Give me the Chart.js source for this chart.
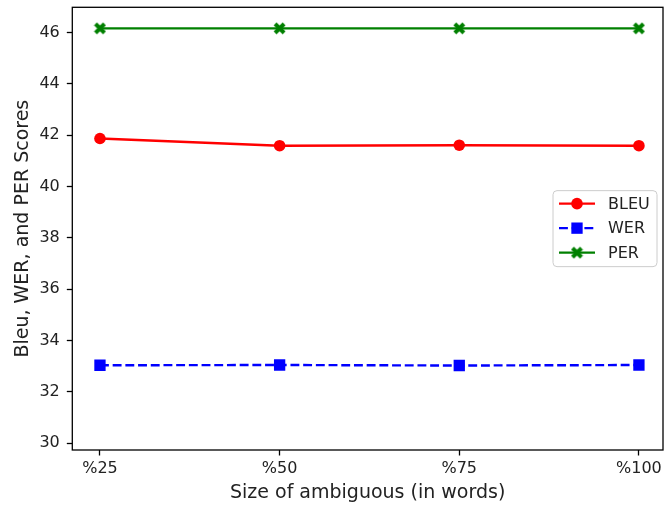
<!DOCTYPE html>
<html>
<head>
<meta charset="utf-8">
<script src="https://cdn.jsdelivr.net/npm/chart.js@4.4.0/dist/chart.umd.min.js"></script>
<style>
  html, body { margin: 0; padding: 0; background: #fff; }
  #wrap { width: 665px; height: 508px; position: relative; }
</style>
</head>
<body>
<div id="wrap"><canvas id="chart"></canvas></div>
<script>
// ── Datos ────────────────────────────────────────────────────────────────────
const SIZES   = ['%25', '%50', '%75', '%100'];
const BLEU    = [41.87, 41.59, 41.61, 41.59];
const WER     = [33.04, 33.05, 33.03, 33.05];
const PER     = [46.16, 46.16, 46.16, 46.16];
const Y_TICKS = [30, 32, 34, 36, 38, 40, 42, 44, 46];

const FONT = "'DejaVu Sans', 'Liberation Sans', sans-serif";
const INK  = '#222222';

// marcador 'X' relleno (estilo matplotlib)
function makeXMarker(color) {
  const c = document.createElement('canvas');
  c.width = 13; c.height = 13;
  const g = c.getContext('2d');
  g.strokeStyle = color;
  g.lineWidth = 4;
  g.lineCap = 'butt';
  g.beginPath();
  g.moveTo(2, 2);  g.lineTo(11, 11);
  g.moveTo(11, 2); g.lineTo(2, 11);
  g.stroke();
  return c;
}
const X_MARK = makeXMarker('#008000');

const toXY = arr => arr.map((v, i) => ({ x: i, y: v }));

// ── Marco de ejes + leyenda estilo matplotlib ───────────────────────────────
function drawMarker(ctx, ds, x, y) {
  ctx.save();
  ctx.fillStyle = ds.pointBackgroundColor;
  if (ds.pointStyle === 'circle') {
    ctx.beginPath();
    ctx.arc(x, y, ds.pointRadius, 0, Math.PI * 2);
    ctx.fill();
  } else if (ds.pointStyle === 'rect') {
    const s = ds.pointRadius * Math.SQRT1_2;
    ctx.fillRect(x - s, y - s, 2 * s, 2 * s);
  } else {
    const img = ds.pointStyle;
    ctx.drawImage(img, x - img.width / 2, y - img.height / 2);
  }
  ctx.restore();
}

const framePlugin = {
  id: 'frame',
  afterDraw(chart) {
    const { ctx, chartArea: a } = chart;
    ctx.save();
    ctx.strokeStyle = '#000';
    ctx.lineWidth = 1.3;
    ctx.strokeRect(a.left, a.top, a.right - a.left, a.bottom - a.top);

    // leyenda
    const w = 104, h = 76;
    const x0 = a.right - 6 - w;
    const y0 = (a.top + a.bottom) / 2 - h / 2;
    ctx.beginPath();
    ctx.roundRect(x0, y0, w, h, 4);
    ctx.fillStyle = 'rgba(255,255,255,0.8)';
    ctx.fill();
    ctx.strokeStyle = '#cccccc';
    ctx.lineWidth = 1;
    ctx.stroke();

    ctx.font = `16px ${FONT}`;
    ctx.textBaseline = 'middle';
    ctx.textAlign = 'left';
    chart.data.datasets.forEach((ds, i) => {
      const y = y0 + 13 + i * 24.5;
      ctx.save();
      ctx.strokeStyle = ds.borderColor;
      ctx.lineWidth = ds.borderWidth;
      ctx.setLineDash(ds.borderDash || []);
      ctx.beginPath();
      ctx.moveTo(x0 + 6, y);
      ctx.lineTo(x0 + 42, y);
      ctx.stroke();
      ctx.restore();
      drawMarker(ctx, ds, x0 + 24, y);
      ctx.fillStyle = INK;
      ctx.fillText(ds.label, x0 + 55, y + 1);
    });
    ctx.restore();
  }
};

// ── Gráfica ──────────────────────────────────────────────────────────────────
const lineBase = {
  borderWidth: 2.4,
  pointBorderWidth: 0,
  fill: false,
  tension: 0,
};

new Chart(document.getElementById('chart'), {
  type: 'line',
  data: {
    datasets: [
      { ...lineBase, label: 'BLEU', data: toXY(BLEU),
        borderColor: '#ff0000', backgroundColor: '#ff0000', pointBackgroundColor: '#ff0000',
        pointStyle: 'circle', pointRadius: 5.8 },
      { ...lineBase, label: 'WER', data: toXY(WER),
        borderColor: '#0000ff', backgroundColor: '#0000ff', pointBackgroundColor: '#0000ff',
        borderDash: [8.9, 3.8], pointStyle: 'rect', pointRadius: 8 },
      { ...lineBase, label: 'PER', data: toXY(PER),
        borderColor: '#008000', backgroundColor: '#008000', pointBackgroundColor: '#008000',
        pointStyle: X_MARK, pointRadius: 6 },
    ]
  },
  options: {
    responsive:          true,
    maintainAspectRatio: false,
    animation:           false,
    events:              [],
    layout: { autoPadding: false, padding: { top: 7.3, right: 2, left: 0, bottom: 0 } },
    plugins: {
      legend:  { display: false },
      tooltip: { enabled: false },
    },
    scales: {
      x: {
        type: 'linear',
        min: -0.154, max: 3.134,
        afterBuildTicks: s => { s.ticks = SIZES.map((_, i) => ({ value: i })); },
        afterFit: s => { s.height = 58; s.paddingLeft = 0; s.paddingRight = 0; },
        border: { display: false },
        grid:  { drawOnChartArea: false, drawTicks: true, tickLength: 5.5, tickWidth: 1.3, color: '#000' },
        ticks: { callback: v => SIZES[v], font: { family: FONT, size: 16 }, color: INK, padding: 4, maxRotation: 0 },
        title: { display: true, text: 'Size of ambiguous (in words)', font: { family: FONT, size: 19 }, color: INK, padding: { top: 0, bottom: 4 } },
      },
      y: {
        min: 29.74, max: 46.98,
        afterBuildTicks: s => { s.ticks = Y_TICKS.map(v => ({ value: v })); },
        afterFit: s => { s.width = 72.3; s.paddingTop = 0; s.paddingBottom = 0; },
        border: { display: false },
        grid:  { drawOnChartArea: false, drawTicks: true, tickLength: 5.5, tickWidth: 1.3, color: '#000' },
        ticks: { font: { family: FONT, size: 16 }, color: INK, padding: 7 },
        title: { display: true, text: 'Bleu, WER, and PER Scores', font: { family: FONT, size: 19 }, color: INK, padding: { top: 12, bottom: 0 } },
      }
    }
  },
  plugins: [framePlugin]
});
</script>
</body>
</html>
